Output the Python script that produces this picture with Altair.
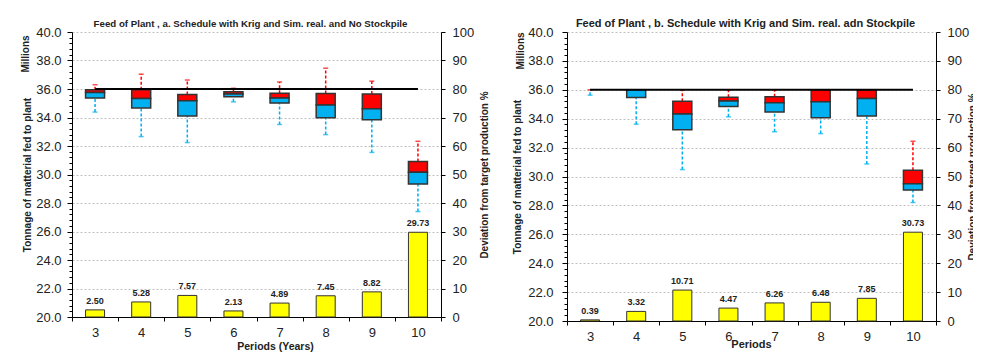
import altair as alt
import pandas as pd

periods = [3, 4, 5, 6, 7, 8, 9, 10]

# Panel a: schedule with Krig and Sim. real., no stockpile (Millions of tonnes)
a_whisker_low = [34.38, 32.66, 32.24, 35.10, 33.51, 32.80, 31.55, 27.40]
a_box_low = [35.37, 34.67, 34.11, 35.46, 35.01, 33.99, 33.85, 29.33]
a_median = [35.75, 35.33, 35.17, 35.65, 35.36, 34.87, 34.62, 30.16]
a_box_high = [35.94, 35.95, 35.61, 35.80, 35.70, 35.68, 35.65, 30.92]
a_whisker_high = [36.30, 37.04, 36.63, 36.05, 36.49, 37.46, 36.55, 32.33]
a_deviation = [2.50, 5.28, 7.57, 2.13, 4.89, 7.45, 8.82, 29.73]

# Panel b: schedule with Krig and Sim. real. and stockpile
b_whisker_low = [35.63, 33.62, 30.48, 34.13, 33.10, 32.97, 30.87, 28.20]
b_box_low = [36.00, 35.46, 33.23, 34.85, 34.47, 34.06, 34.19, 29.06]
b_median = [36.00, 36.00, 34.33, 35.22, 35.11, 35.17, 35.40, 29.49]
b_box_high = [36.00, 36.00, 35.20, 35.49, 35.52, 36.00, 36.00, 30.43]
b_whisker_high = [36.00, 36.00, 36.00, 36.00, 36.00, 36.00, 36.00, 32.44]
b_deviation = [0.39, 3.32, 10.71, 4.47, 6.26, 6.48, 7.85, 30.73]

target_feed = 36.0

title_a = "Feed of Plant , a. Schedule with Krig and Sim. real. and No Stockpile"
title_b = "Feed of Plant , b. Schedule with Krig and Sim. real. adn Stockpile"
y_left_title = "Tonnage of  matterial fed to plant"
y_right_title = "Deviation from target production %"

RED = "#FF0000"
BLUE = "#00B0F0"
YELLOW = "#FFFF00"
EDGE = "#333333"
TXT = "#222222"

MAJOR = "abs(datum.value / 2 - round(datum.value / 2)) < 0.01"
minor_values = [round(20 + 0.4 * i, 1) for i in range(51)]


def panel(title_text, title_size, wl, bl, md, bh, wh, dev, width, height,
          xtitle, xtitle_x, xtitle_y, xtitle_size, ylab_pad, ytitle_x,
          millions_x, millions_y, rtitle_x):
    df = pd.DataFrame({
        "period": periods, "wl": wl, "bl": bl, "md": md, "bh": bh, "wh": wh,
        "dev": dev, "target": [target_feed] * len(periods),
        "label": [f"{v:.2f}" for v in dev],
    })
    base = alt.Chart(df)

    x_enc = alt.X(
        "period:O", title=xtitle,
        scale=alt.Scale(paddingInner=0, paddingOuter=0),
        axis=alt.Axis(labelAngle=0, tickBand="extent", tickSize=4, labelPadding=5,
                      labelFontSize=13, labelColor=TXT, titleFontSize=xtitle_size,
                      titleFontWeight="bold", titleColor=TXT, titleX=xtitle_x,
                      titleY=xtitle_y, titleBaseline="middle", titleAlign="center",
                      domainColor="black", tickColor="black", grid=False),
    )

    yl_scale = alt.Scale(domain=[20, 40], nice=False, zero=False)
    yl_axis = alt.Axis(
        orient="left", values=minor_values,
        labelExpr=f"{MAJOR} ? format(datum.value, '.1f') : ''",
        labelOverlap=False, labelFlush=False, labelFontSize=13, labelColor=TXT,
        labelPadding=ylab_pad,
        tickSize={"condition": {"test": MAJOR, "value": 5}, "value": 3},
        gridOpacity={"condition": {"test": MAJOR, "value": 1}, "value": 0},
        gridColor="#bfbfbf", gridDash=[2, 2], domainColor="black", tickColor="black",
        title=y_left_title, titleFontSize=10, titleFontWeight="bold", titleColor=TXT,
        titleAngle=270, titleX=ytitle_x, titleY=height / 2, titleBaseline="middle",
        titleAlign="center",
    )

    def yl(field):
        return alt.Y(f"{field}:Q", scale=yl_scale, axis=yl_axis)

    yr_scale = alt.Scale(domain=[0, 100], nice=False)
    yr_axis = alt.Axis(
        orient="right", values=list(range(0, 101, 10)), grid=False, tickSize=4,
        labelPadding=7, labelFontSize=13, labelColor=TXT, labelFlush=False,
        domainColor="black", tickColor="black",
        title=y_right_title, titleFontSize=10, titleFontWeight="bold", titleColor=TXT,
        titleAngle=270, titleX=rtitle_x, titleY=height / 2, titleBaseline="middle",
        titleAlign="center",
    )

    def yr(field):
        return alt.Y(f"{field}:Q", scale=yr_scale, axis=yr_axis)

    whisk_hi = base.mark_rule(color=RED, strokeDash=[3, 2], strokeWidth=1.5).encode(
        x=x_enc, y=yl("bh"), y2="wh")
    cap_hi = base.mark_tick(color=RED, size=5, thickness=1.5).encode(x=x_enc, y=yl("wh"))
    whisk_lo = base.mark_rule(color=BLUE, strokeDash=[3, 2], strokeWidth=1.5).encode(
        x=x_enc, y=yl("wl"), y2="bl")
    cap_lo = base.mark_tick(color=BLUE, size=5, thickness=1.5).encode(x=x_enc, y=yl("wl"))
    box_red = base.transform_filter("datum.bh > datum.md").mark_bar(
        color=RED, stroke=EDGE, strokeWidth=1.5, size=19).encode(
        x=x_enc, y=yl("md"), y2="bh")
    box_blue = base.transform_filter("datum.md > datum.bl").mark_bar(
        color=BLUE, stroke=EDGE, strokeWidth=1.5, size=19).encode(
        x=x_enc, y=yl("bl"), y2="md")
    target = base.mark_line(color="black", strokeWidth=2).encode(x=x_enc, y=yl("target"))
    millions = alt.Chart(pd.DataFrame({"t": ["Millions"]})).mark_text(
        angle=270, fontSize=10, fontWeight="bold", color=TXT).encode(
        x=alt.value(millions_x), y=alt.value(millions_y), text="t:N")

    left = alt.layer(whisk_hi, cap_hi, whisk_lo, cap_lo, box_red, box_blue, target, millions)

    bars = base.mark_bar(color=YELLOW, stroke=EDGE, strokeWidth=1, size=19).encode(
        x=x_enc, y=yr("dev"))
    labels = base.mark_text(dy=-4, baseline="bottom", fontSize=9, fontWeight="bold",
                            color=TXT).encode(x=x_enc, y=yr("dev"), text="label:N")
    right = alt.layer(bars, labels)

    return alt.layer(left, right).resolve_scale(y="independent").properties(
        width=width, height=height,
        title=alt.TitleParams(text=title_text, fontSize=title_size, fontWeight="bold",
                              color=TXT, anchor="middle", dx=-6, offset=-3, frame="group"),
    )


pa = panel(title_a, 9.7, a_whisker_low, a_box_low, a_median, a_box_high, a_whisker_high,
           a_deviation, 369, 285, "Periods (Years)", 203, 29, 10.5, 6, -45, -46, 22, 43)
pb = panel(title_b, 11, b_whisker_low, b_box_low, b_median, b_box_high, b_whisker_high,
           b_deviation, 369, 289, "Periods", 184, 23, 11, 9, -50, -46, 19, 36)

chart = alt.hconcat(pa, pb, spacing=23).properties(
    padding={"left": 13, "top": 10, "right": -4, "bottom": 0}
).configure(font="Liberation Sans").configure_view(stroke=None)

chart.save("out.html", embed_options={"renderer": "svg", "actions": False})
